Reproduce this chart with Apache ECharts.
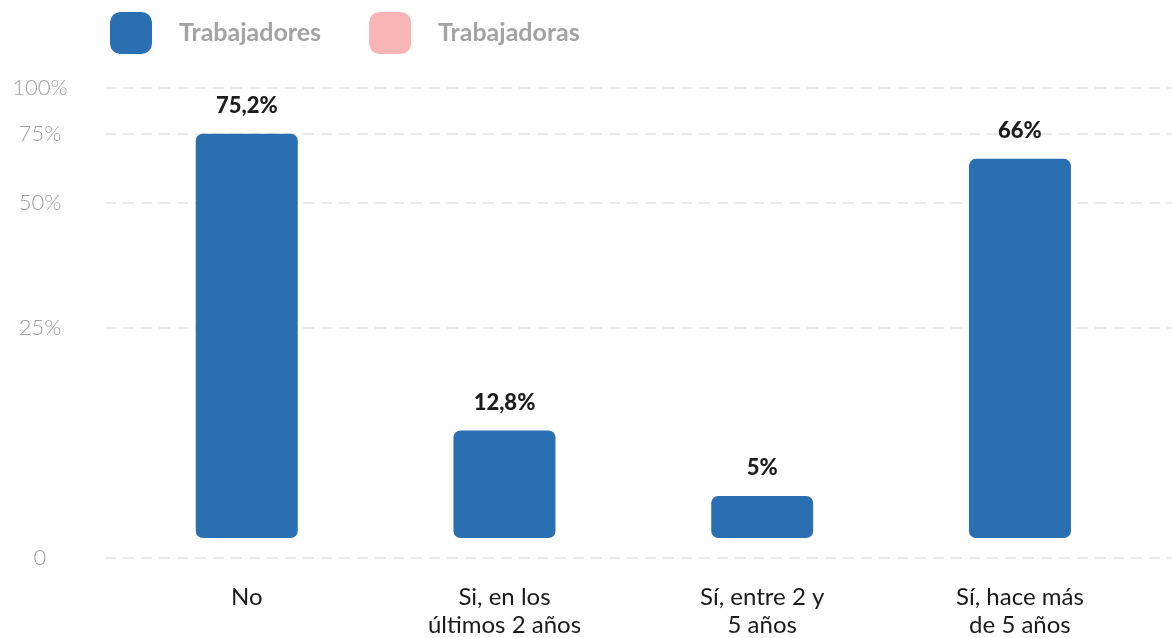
<!DOCTYPE html>
<html>
<head>
<meta charset="utf-8">
<script src="https://cdn.jsdelivr.net/npm/echarts@6/dist/echarts.min.js"></script>
<style>
  html, body { margin: 0; padding: 0; background: #fff; }
  #main { width: 1172px; height: 638px; }
</style>
</head>
<body>
<div id="main"></div>
<script>
var categories = ['No', 'Si, en los\núltimos 2 años', 'Sí, entre 2 y\n5 años', 'Sí, hace más\nde 5 años'];
var trabajadores = [75.2, 12.8, 5, 66];
var trabajadoras = [];
var yTickValues = [0, 25, 50, 75, 100];
var yTickLabels = ['0', '25%', '50%', '75%', '100%'];

// the source axis is stretched, not linear: each step of 25% gets its own length
var scaleStops = [0, 25, 50, 75, 100];
var scaleLen = [0, 210, 335, 404, 450];
var axisFloor = -20; // the "0" line sits a bit under the bar base

function toAxis(p) {
  for (var i = 1; i < scaleStops.length; i++) {
    if (p <= scaleStops[i]) {
      var t = (p - scaleStops[i - 1]) / (scaleStops[i] - scaleStops[i - 1]);
      return scaleLen[i - 1] + t * (scaleLen[i] - scaleLen[i - 1]);
    }
  }
  return scaleLen[scaleLen.length - 1];
}

var tickPos = [];
for (var i = 0; i < yTickValues.length; i++) {
  tickPos.push(i === 0 ? axisFloor : toAxis(yTickValues[i]));
}

function makeData(arr) {
  var out = [];
  for (var i = 0; i < arr.length; i++) {
    out.push({ value: [i, toAxis(arr[i])], pct: arr[i] });
  }
  return out;
}

var myChart = echarts.init(document.getElementById('main'));
var option = {
  animation: false,
  textStyle: { fontFamily: 'Lato' },
  legend: {
    left: 110,
    top: 12,
    padding: 0,
    itemWidth: 42,
    itemHeight: 42,
    itemGap: 48,
    icon: 'roundRect',
    textStyle: {
      color: '#a3a3a3',
      fontSize: 25,
      fontWeight: 'bold',
      padding: [0, 0, 0, 22]
    },
    data: ['Trabajadores', 'Trabajadoras']
  },
  grid: { left: 105, right: 0, top: 88, bottom: 80, outerBoundsMode: 'none' },
  xAxis: {
    type: 'value',
    min: -0.55,
    max: 3.59,
    axisLine: { show: false },
    axisTick: { show: false },
    splitLine: { show: false },
    axisLabel: {
      customValues: [0, 1, 2, 3],
      formatter: function (v) { return categories[Math.round(v)]; },
      color: '#1a1a1a',
      fontSize: 24,
      lineHeight: 28,
      margin: 25
    }
  },
  yAxis: {
    type: 'value',
    min: axisFloor,
    max: scaleLen[scaleLen.length - 1],
    axisLine: { show: false },
    axisTick: { show: false, customValues: tickPos },
    axisLabel: {
      customValues: tickPos,
      formatter: function (v) {
        var idx = tickPos.indexOf(v);
        return idx >= 0 ? yTickLabels[idx] : '';
      },
      color: '#a0a0a0',
      fontSize: 22,
      fontWeight: 300,
      align: 'center',
      margin: 65,
      padding: [0, 0, 9, 0]
    },
    splitLine: {
      show: true,
      lineStyle: { color: '#ebebeb', width: 2, type: [11, 7] }
    }
  },
  series: [{
    name: 'Trabajadores',
    type: 'bar',
    barWidth: 102,
    barGap: '-100%',
    itemStyle: { color: '#2b6fb3', borderRadius: 7 },
    label: {
      show: true,
      position: 'top',
      distance: 17,
      color: '#1c1c1c',
      fontSize: 22,
      fontWeight: 900,
      formatter: function (p) { return String(p.data.pct).replace('.', ',') + '%'; }
    },
    data: makeData(trabajadores)
  }, {
    name: 'Trabajadoras',
    type: 'bar',
    barWidth: 102,
    barGap: '-100%',
    itemStyle: { color: '#f7b5b5', borderRadius: 7 },
    data: makeData(trabajadoras)
  }]
};
myChart.setOption(option);
</script>
</body>
</html>
